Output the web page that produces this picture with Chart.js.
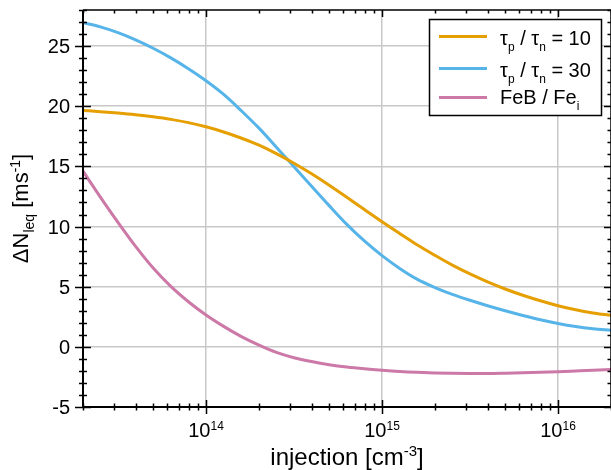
<!DOCTYPE html>
<html>
<head>
<meta charset="utf-8">
<script src="https://cdn.jsdelivr.net/npm/chart.js@4/dist/chart.umd.min.js"></script>
<style>
  html, body { margin: 0; padding: 0; background: #fff; }
  canvas { display: block; }
</style>
</head>
<body>
<canvas id="c" width="611" height="470"></canvas>
<script>
// injection level [cm^-3], 0.1-decade steps from 2e13 to 2e16
const injection = [
  2e13, 2.51e13, 3.16e13, 3.98e13, 5.01e13, 6.31e13, 7.94e13,
  1e14, 1.26e14, 1.58e14, 2e14, 2.51e14, 3.16e14, 3.98e14, 5.01e14, 6.31e14, 7.94e14,
  1e15, 1.26e15, 1.58e15, 2e15, 2.51e15, 3.16e15, 3.98e15, 5.01e15, 6.31e15, 7.94e15,
  1e16, 1.26e16, 1.58e16, 2e16
];
const ratio10 = [
  19.65, 19.55, 19.43, 19.29, 19.12, 18.91, 18.64,
  18.29, 17.86, 17.36, 16.76, 16.06, 15.26, 14.38, 13.43, 12.43, 11.41,
  10.4, 9.42, 8.48, 7.6, 6.79, 6.06, 5.4, 4.81, 4.29, 3.83,
  3.42, 3.08, 2.82, 2.62
];
const ratio30 = [
  26.95, 26.6, 26.12, 25.52, 24.82, 24.02, 23.12,
  22.12, 20.98, 19.65, 18.18, 16.6, 14.98, 13.35, 11.74, 10.18, 8.8,
  7.58, 6.52, 5.63, 4.93, 4.36, 3.87, 3.42, 3.0, 2.61, 2.25,
  1.94, 1.69, 1.51, 1.38
];
const febFei = [
  14.6, 12.45, 10.35, 8.35, 6.55, 5.02, 3.75,
  2.65, 1.7, 0.87, 0.14, -0.46, -0.9, -1.22, -1.48, -1.68, -1.83,
  -1.95, -2.05, -2.12, -2.17, -2.2, -2.21, -2.21, -2.19, -2.16, -2.12,
  -2.07, -2.01, -1.95, -1.88
];
const yTicks = [-5, 0, 5, 10, 15, 20, 25];
const xDecades = [1e14, 1e15, 1e16];

const FONT = '"Liberation Sans", Arial, sans-serif';
const GRID = '#c8c8c8';

// text runs: [string, 0 normal | 1 subscript | 2 superscript]
function drawRich(ctx, runs, x, y, size, align) {
  const small = Math.round(size * 0.62);
  let total = 0;
  const parts = runs.map(([t, k]) => {
    ctx.font = (k ? small : size) + 'px ' + FONT;
    const w = ctx.measureText(t).width;
    total += w;
    return { t, k, w };
  });
  let cx = align === 'center' ? x - total / 2 : align === 'right' ? x - total : x;
  parts.forEach(p => {
    ctx.font = (p.k ? small : size) + 'px ' + FONT;
    const dy = p.k === 1 ? size * 0.28 : p.k === 2 ? -size * 0.36 : 0;
    ctx.fillText(p.t, cx, y + dy);
    cx += p.w;
  });
}

const frame = {
  id: 'frame',
  afterDraw(chart) {
    const { ctx, chartArea: a, scales: { x, y } } = chart;
    ctx.save();
    ctx.strokeStyle = '#000';
    ctx.fillStyle = '#000';

    // box
    ctx.lineWidth = 2;
    ctx.beginPath();
    ctx.moveTo(a.left, a.top);
    ctx.lineTo(a.left, a.bottom);
    ctx.lineTo(a.right, a.bottom);
    ctx.stroke();
    ctx.lineWidth = 1.5;
    ctx.beginPath();
    ctx.moveTo(a.left, a.top);
    ctx.lineTo(a.right, a.top);
    ctx.lineTo(a.right, a.bottom);
    ctx.stroke();

    // y ticks, major every 5, minor every 1
    ctx.lineWidth = 1.5;
    ctx.beginPath();
    for (let v = Math.ceil(y.min); v <= y.max; v++) {
      const py = Math.round(y.getPixelForValue(v)) + 0.5;
      const major = v % 5 === 0;
      const outer = major ? 8 : 4;
      const inner = major ? 7 : 3.5;
      ctx.moveTo(a.left - outer, py); ctx.lineTo(a.left + outer, py);
      ctx.moveTo(a.right, py); ctx.lineTo(a.right - inner, py);
    }
    // x ticks, decades and 2..9 in between
    for (let e = Math.floor(Math.log10(x.min)); e <= Math.ceil(Math.log10(x.max)); e++) {
      for (let m = 1; m <= 9; m++) {
        const v = m * Math.pow(10, e);
        if (v < x.min * 0.999 || v > x.max * 1.001) continue;
        const px = Math.round(x.getPixelForValue(v)) + 0.5;
        const major = m === 1;
        const len = major ? 7 : 3.5;
        ctx.moveTo(px, a.bottom - len); ctx.lineTo(px, a.bottom + len);
        ctx.moveTo(px, a.top); ctx.lineTo(px, a.top + len);
      }
    }
    ctx.stroke();

    // tick labels
    ctx.textBaseline = 'alphabetic';
    ctx.textAlign = 'left';
    yTicks.forEach(v => {
      const py = y.getPixelForValue(v);
      drawRich(ctx, [[String(v), 0]], 70, py + 7, 20, 'right');
    });
    xDecades.forEach(v => {
      const px = x.getPixelForValue(v);
      drawRich(ctx, [['10', 0], [String(Math.round(Math.log10(v))), 2]], px, 437, 20, 'center');
    });

    // axis titles
    drawRich(ctx, [['injection [cm', 0], ['-3', 2], [']', 0]], (a.left + a.right) / 2, 465, 24, 'center');
    ctx.save();
    ctx.translate(28, (a.top + a.bottom) / 2);
    ctx.rotate(-Math.PI / 2);
    drawRich(ctx, [['ΔN', 0], ['leq', 1], [' [ms', 0], ['-1', 2], [']', 0]], 0, 0, 22, 'center');
    ctx.restore();

    // legend
    const lx = 429.5, ly = 19.5, lw = 172, lh = 96;
    ctx.fillStyle = '#fff';
    ctx.fillRect(lx, ly, lw, lh);
    ctx.lineWidth = 1.5;
    ctx.strokeRect(lx, ly, lw, lh);
    const rows = [
      { color: chart.data.datasets[0].borderColor, ly: 36.5, by: 45,
        runs: [['τ', 0], ['p', 1], [' / τ', 0], ['n', 1], [' = 10', 0]] },
      { color: chart.data.datasets[1].borderColor, ly: 68.5, by: 77,
        runs: [['τ', 0], ['p', 1], [' / τ', 0], ['n', 1], [' = 30', 0]] },
      { color: chart.data.datasets[2].borderColor, ly: 97.5, by: 104,
        runs: [['FeB / Fe', 0], ['i', 1]] }
    ];
    rows.forEach(r => {
      ctx.strokeStyle = r.color;
      ctx.lineWidth = 3;
      ctx.beginPath();
      ctx.moveTo(439, r.ly); ctx.lineTo(487, r.ly);
      ctx.stroke();
      ctx.fillStyle = '#000';
      drawRich(ctx, r.runs, 500, r.by, 20, 'left');
    });
    ctx.restore();
  }
};

const pts = vals => injection.map((v, i) => ({ x: v, y: vals[i] }));

new Chart(document.getElementById('c'), {
  type: 'line',
  data: {
    datasets: [
      { label: 'τp / τn = 10', data: pts(ratio10), borderColor: '#E69F00' },
      { label: 'τp / τn = 30', data: pts(ratio30), borderColor: '#56B4E9' },
      { label: 'FeB / Fei', data: pts(febFei), borderColor: '#CC79A7' }
    ]
  },
  options: {
    responsive: false,
    animation: false,
    devicePixelRatio: 1,
    layout: { padding: { top: 10, left: 0, right: 0, bottom: 0 } },
    elements: {
      point: { radius: 0 },
      line: { borderWidth: 3, cubicInterpolationMode: 'monotone' }
    },
    plugins: { legend: { display: false }, tooltip: { enabled: false } },
    scales: {
      x: {
        type: 'logarithmic',
        min: 2e13,
        max: 2e16,
        afterBuildTicks: s => { s.ticks = xDecades.map(v => ({ value: v, major: true })); },
        afterFit: s => { s.height = 63; },
        ticks: { display: false },
        border: { display: false },
        grid: { color: GRID, lineWidth: 1.5, drawTicks: false }
      },
      y: {
        type: 'linear',
        min: -5,
        max: 28,
        afterBuildTicks: s => { s.ticks = yTicks.map(v => ({ value: v })); },
        afterFit: s => { s.width = 83; },
        ticks: { display: false },
        border: { display: false },
        grid: { color: GRID, lineWidth: 1.5, drawTicks: false }
      }
    }
  },
  plugins: [frame]
});
</script>
</body>
</html>
